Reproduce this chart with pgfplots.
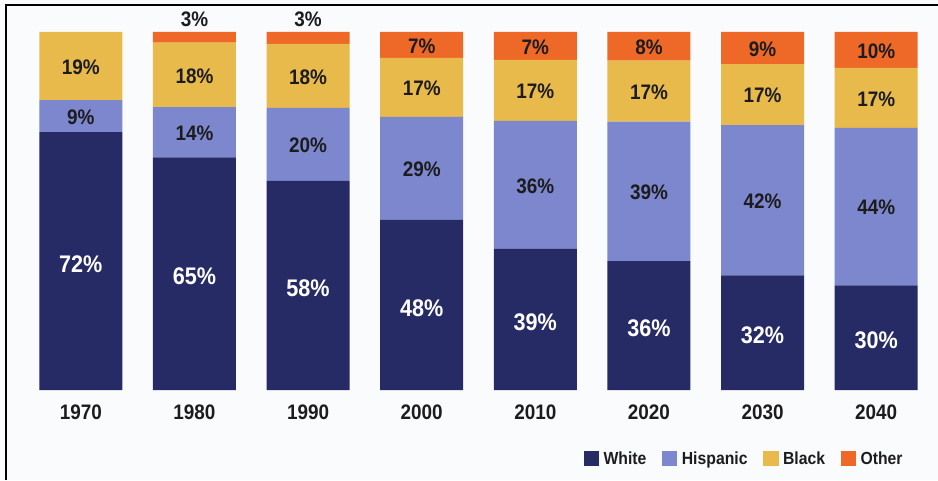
\documentclass[border=0pt]{standalone}
\usepackage{pgfplots}
\usepackage{pgfplotstable}
\pgfplotsset{compat=1.18}
\usepackage{fontspec}
\setmainfont{Liberation Sans}[FakeStretch=0.9]
\definecolor{cWhite}{RGB}{38,43,102}
\definecolor{cHisp}{RGB}{125,135,205}
\definecolor{cBlack}{RGB}{232,185,75}
\definecolor{cOther}{RGB}{238,105,40}
\definecolor{txt}{RGB}{28,28,30}
\definecolor{bg}{RGB}{250,251,253}
\pgfplotstableread{
x w h b o wl hl bl ol
0 72 9 19 0 72\% 9\% 19\% {}
1 65 14 18 3 65\% 14\% 18\% 3\%
2 58.4 20.4 17.9 3.3 58\% 20\% 18\% 3\%
3 47.5 28.8 16.5 7.2 48\% 29\% 17\% 7\%
4 39.4 35.8 17.0 7.8 39\% 36\% 17\% 7\%
5 36 39 17 8 36\% 39\% 17\% 8\%
6 32 42 17 9 32\% 42\% 17\% 9\%
7 29.2 44 16.8 10 30\% 44\% 17\% 10\%
}\data
\begin{document}
\begin{tikzpicture}
\useasboundingbox[fill=bg] (0,0) rectangle (938pt,480pt);
\draw[line width=2pt, black] (6pt,0) -- (6pt,475pt) -- (938pt,475pt);
\begin{axis}[
  at={(24pt,90pt)}, anchor=south west,
  scale only axis, width=909pt, height=358pt,
  xmin=-0.5, xmax=7.5, ymin=0, ymax=100,
  ybar stacked, bar width=0.73,
  axis x line*=bottom, axis y line=none,
  x axis line style={draw=none},
  major tick length=0pt,
  xtick=data,
  xticklabels={1970,1980,1990,2000,2010,2020,2030,2040},
  xticklabel style={anchor=center, yshift=-22pt, font=\fontsize{21}{21}\selectfont\bfseries, text=txt},
  ytick=\empty,
  point meta=explicit symbolic,
  nodes near coords,
  visualization depends on={rawy \as \segh},
  every node near coord/.style={anchor=center, yshift=-1pt, font=\fontsize{21}{21}\selectfont\bfseries, text=txt},
  legend columns=4,
  legend style={at={(0.612,-0.192)}, anchor=west, draw=none, fill=none,
    font=\fontsize{17.5}{17.5}\selectfont\bfseries, text=txt,
    nodes={inner sep=2.5pt},
    /tikz/every odd column/.append style={column sep=2pt},
    /tikz/every even column/.append style={column sep=13pt}},
  legend image code/.code={\fill[#1, draw=none] (0pt,-7.5pt) rectangle (15.5pt,7.5pt);},
]
\addplot[fill=cWhite, draw=none,
  every node near coord/.append style={text=white, yshift=-2pt, font=\fontsize{24}{24}\selectfont\bfseries}]
  table[x=x, y=w, meta=wl] {\data};
\addplot[fill=cHisp, draw=none]
  table[x=x, y=h, meta=hl] {\data};
\addplot[fill=cBlack, draw=none]
  table[x=x, y=b, meta=bl] {\data};
\addplot[fill=cOther, draw=none,
  every node near coord/.append style={yshift={(\segh<5 ? 14+1.79*\segh : 0)*1pt}}]
  table[x=x, y=o, meta=ol] {\data};
\legend{White, Hispanic, Black, Other}
\end{axis}
\end{tikzpicture}
\end{document}
